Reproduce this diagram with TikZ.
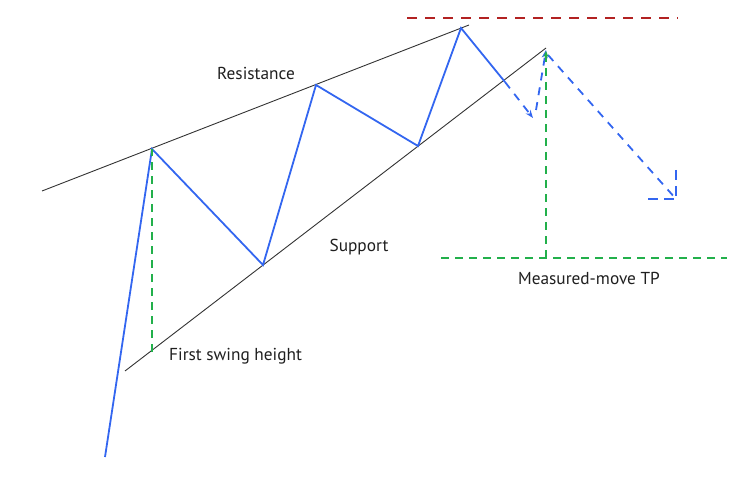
\documentclass[tikz,border=0pt]{standalone}
\usepackage{fontspec}
\setmainfont{PT Sans}
\usetikzlibrary{arrows.meta}
\definecolor{pblue}{HTML}{3366F0}
\definecolor{pgreen}{HTML}{22B04B}
\definecolor{pred}{HTML}{B22222}
\definecolor{pline}{HTML}{333333}
\tikzset{
  trendline/.style={pline, line width=0.9pt},
  price/.style={pblue, line width=1.8pt, line join=miter},
  pricedash/.style={pblue, line width=1.8pt, dash pattern=on 8pt off 7pt},
  measure/.style={pgreen, line width=1.6pt, dash pattern=on 8pt off 6pt},
  topline/.style={pred, line width=1.6pt, dash pattern=on 10pt off 8pt},
  lbl/.style={font=\fontsize{17.3}{20}\selectfont, text=black!88, inner sep=0pt}
}
\begin{document}
\begin{tikzpicture}[x=1pt,y=-1pt]
\useasboundingbox (0,0) rectangle (741,486);
% trend lines
\coordinate (r0) at (42,191);
\coordinate (r1) at (469,25);
\coordinate (s0) at (125,371);
\coordinate (s1) at (546,48);
\draw[trendline] (r0) -- (r1);
\draw[trendline] (s0) -- (s1);
% price path
\coordinate (p0) at (105,457);
\coordinate (p1) at (152,149);
\coordinate (p2) at (263,265);
\coordinate (p3) at (316,85);
\coordinate (p4) at (418,146);
\coordinate (p5) at (461,28);
\coordinate (p6) at (505,82);
\coordinate (p7) at (533,118);
\coordinate (p8) at (546,50);
\coordinate (p9) at (676,199);
\draw[price] (p0) -- (p1) -- (p2) -- (p3) -- (p4) -- (p5) -- (p6);
\draw[pricedash, -{Stealth[length=8pt,width=6pt]}] (p6) -- (p7);
\draw[pricedash, -{Stealth[length=8pt,width=6pt]}] (536,110) -- (p8);
\draw[pricedash] (548,55) -- (p9);
\coordinate (h1) at (676,170);
\coordinate (h2) at (648,199);
\draw[pricedash, dash pattern=on 10pt off 6pt] (h1) -- (p9);
\draw[pricedash, dash pattern=on 10pt off 6pt] (h2) -- (p9);
% measured move
\coordinate (g0) at (152,352);
\draw[measure] (g0) -- (p1);
\coordinate (m0) at (546,258);
\coordinate (m1) at (546,51);
\draw[measure, -{Stealth[length=6pt,width=5pt]}] (m0) -- (m1);
\coordinate (tpL) at (441,258);
\coordinate (tpR) at (727,258);
\draw[measure] (tpL) -- (tpR);
% red top
\coordinate (redL) at (407,18);
\coordinate (redR) at (678,18);
\draw[topline] (redL) -- (redR);
% labels
\node[lbl] (res) at (256,73) {Resistance};
\node[lbl] (sup) at (359,247) {Support};
\node[lbl, anchor=west] (fsh) at (169,356) {First swing height};
\node[lbl] (mmtp) at (589,278) {Measured-move TP};
\end{tikzpicture}
\end{document}
